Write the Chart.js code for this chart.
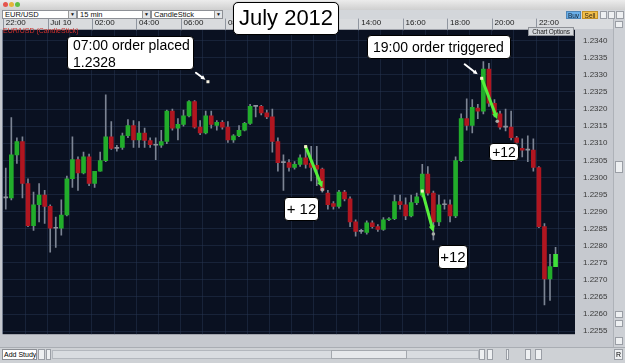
<!DOCTYPE html>
<html>
<head>
<meta charset="utf-8">
<script src="https://cdn.jsdelivr.net/npm/chart.js@4.4.1/dist/chart.umd.min.js"></script>
<style>
  body { margin: 0; width: 625px; height: 363px; overflow: hidden; position: relative;
         background: #c6c9cf; font-family: "Liberation Sans", Arial, sans-serif; }
  .abs { position: absolute; box-sizing: border-box; white-space: nowrap; overflow: hidden; }
  #titlebar { left: 0; top: 0; width: 625px; height: 10px; background: linear-gradient(#ececec, #cfcfcf); }
  .light { width: 5px; height: 5px; border-radius: 50%; top: 2px; }
  #toolbar { left: 0; top: 10px; width: 625px; height: 9px; background: #d3d6da; }
  #timerow { left: 0; top: 19px; width: 613px; height: 10px; background: #d9dbde; }
  .sel { top: 10px; height: 9px; background: #fff; border: 1px solid #8d9096; font-size: 7.5px;
         line-height: 8px; padding-left: 2px; color: #111; }
  .sel b { position: absolute; right: 0; top: 0; width: 7px; height: 7px; background: #e3e5e8;
           border-left: 1px solid #999; font-size: 5px; line-height: 7px; text-align: center; font-weight: normal; }
  #canvasWrap { left: 0; top: 17px; width: 613px; height: 330px; overflow: visible; }
  #vscroll { left: 613px; top: 19px; width: 12px; height: 328px; background: #cdd0d5; border-left: 1px solid #aeb2b8; }
  #bottom { left: 0; top: 347px; width: 625px; height: 16px; background: #ced1d5; border-top: 1px solid #a9adb3; }
  .btn { background: #eef0f2; border: 1px solid #9a9ea5; }
  .box { background: #fff; border: 1px solid #000; border-radius: 4px; color: #000; overflow: visible;
         box-shadow: 0 0 1px rgba(0,0,0,0.4); }
</style>
</head>
<body>
<div class="abs" id="titlebar"></div>
<div class="abs light" style="left:3px;background:#e5554d"></div>
<div class="abs light" style="left:9px;background:#e4b43a"></div>
<div class="abs light" style="left:15px;background:#5fbf45"></div>
<div class="abs" id="toolbar"></div>
<div class="abs" id="timerow"></div>
<div class="abs" id="canvasWrap"><canvas id="chart" width="613" height="330"></canvas></div>
<div class="abs sel" style="left:2px;width:75px">EUR/USD<b>▼</b></div>
<div class="abs sel" style="left:77px;width:74px">15 min<b>▼</b></div>
<div class="abs sel" style="left:151px;width:72px">CandleStick<b>▼</b></div>
<div class="abs" style="left:566px;top:11px;width:15px;height:8px;background:#69aee8;border:1px solid #4f86b8;font-size:6.5px;line-height:7px;text-align:center;color:#123;">Buy</div>
<div class="abs" style="left:582px;top:11px;width:16px;height:8px;background:#f2c04a;border:1px solid #c39127;font-size:6.5px;line-height:7px;text-align:center;color:#321;">Sell</div>
<div class="abs btn" style="left:600px;top:11px;width:7px;height:8px;"></div>
<div class="abs btn" style="left:608px;top:11px;width:7px;height:8px;"></div>
<div class="abs btn" style="left:616px;top:11px;width:8px;height:8px;"></div>
<div class="abs" id="vscroll"></div>
<div class="abs btn" style="left:615px;top:21px;width:8px;height:7px;"></div>
<div class="abs btn" style="left:615px;top:161px;width:8px;height:12px;"></div>
<div class="abs btn" style="left:615px;top:311px;width:8px;height:7px;"></div>
<div class="abs btn" style="left:615px;top:320px;width:8px;height:7px;"></div>
<div class="abs btn" style="left:615px;top:337px;width:8px;height:8px;"></div>
<div class="abs" id="bottom"></div>
<div class="abs" style="left:2px;top:349px;width:35px;height:11px;background:#fff;border:1px solid #8d9096;font-size:7px;line-height:10px;padding-left:1px;">Add Study</div>
<div class="abs btn" style="left:38px;top:349px;width:7px;height:11px;"></div>
<div class="abs btn" style="left:46px;top:349px;width:5px;height:11px;"></div>
<div class="abs" style="left:52px;top:350px;width:427px;height:9px;background:#d9dce0;border:1px solid #b3b7bd;"></div>
<div class="abs" style="left:331px;top:350px;width:76px;height:9px;background:#e6e8eb;border:1px solid #a4a8ae;"></div>
<div class="abs btn" style="left:479px;top:349px;width:6px;height:11px;"></div>
<div class="abs btn" style="left:487px;top:349px;width:6px;height:11px;"></div>
<div class="abs btn" style="left:506px;top:349px;width:3px;height:11px;"></div>
<div class="abs btn" style="left:525px;top:349px;width:6px;height:11px;"></div>
<div class="abs btn" style="left:535px;top:349px;width:7px;height:11px;"></div>
<div class="abs btn" style="left:614px;top:349px;width:9px;height:11px;font-size:7px;line-height:9px;text-align:center;">R</div>

<div class="abs" style="left:3px;top:27px;font-size:7px;line-height:8px;color:#d0302c;">EUR/USD (CandleStick)</div>
<div class="abs" style="left:528px;top:27px;width:46px;height:9px;background:#d4d7db;border:1px solid #8d9096;font-size:6.5px;line-height:7px;text-align:center;color:#222;letter-spacing:-0.2px;">Chart Options</div>

<div class="abs box" style="left:233px;top:2px;width:106px;height:33px;border-width:1.5px;border-radius:5px;font-size:22px;line-height:30px;text-align:center;">July 2012</div>
<div class="abs box" style="left:67px;top:36px;width:127px;height:34px;font-size:14px;line-height:17px;padding:0 0 0 5px;">07:00 order placed<br>1.2328</div>
<div class="abs box" style="left:367px;top:35px;width:144px;height:24px;font-size:14px;line-height:22px;padding-left:5px;">19:00 order triggered</div>
<div class="abs box" style="left:284px;top:197px;width:35px;height:24px;font-size:15px;line-height:22px;text-align:center;">+ 12</div>
<div class="abs box" style="left:438px;top:245px;width:30px;height:24px;font-size:15px;line-height:22px;text-align:center;">+12</div>
<div class="abs box" style="left:489px;top:143px;width:30px;height:18px;font-size:14px;line-height:16px;text-align:center;">+12</div>

<script>
// EUR/USD 15 min candles, 22:00 (Jul 9) onward
const opens = [1.2294,1.2294,1.23066,1.23105,1.22982,1.22859,1.2292,1.22948,1.22915,1.22851,
  1.22851,1.2289,1.22996,1.23052,1.23013,1.2306,1.22982,1.23018,1.23049,1.23119,
  1.23085,1.23088,1.23122,1.23152,1.2311,1.2313,1.23108,1.23094,1.23094,1.23105,
  1.23194,1.23144,1.23155,1.2318,1.23222,1.23147,1.2313,1.2318,1.23152,1.23161,
  1.23147,1.2311,1.23122,1.23138,1.23158,1.23208,1.23208,1.23189,1.23177,1.23105,
  1.23043,1.23043,1.23029,1.23038,1.23057,1.23041,1.23035,1.23024,1.22954,1.22923,
  1.22915,1.22957,1.22937,1.2287,1.22842,1.22839,1.22867,1.22856,1.22848,1.22876,
  1.22879,1.22929,1.2292,1.22887,1.22926,1.22948,1.2301,1.22954,1.2287,1.2292,
  1.2292,1.22887,1.23049,1.23172,1.23152,1.23203,1.23194,1.23317,1.23217,1.23186,
  1.23147,1.23147,1.23116,1.23085,1.2308,1.2308,1.23029,1.22856,1.22703,1.22739];
const highs = [1.23027,1.23175,1.23116,1.23119,1.22996,1.22957,1.22982,1.22962,1.2292,1.22884,
  1.22934,1.23004,1.23119,1.2306,1.23074,1.23068,1.23018,1.23074,1.23242,1.23163,
  1.23094,1.2313,1.23169,1.23166,1.23163,1.23144,1.23116,1.23116,1.23138,1.23197,
  1.232,1.23172,1.23197,1.23225,1.23225,1.23166,1.23194,1.23194,1.23166,1.23166,
  1.23163,1.23125,1.23152,1.23161,1.23214,1.23211,1.23211,1.23197,1.232,1.23116,
  1.23066,1.23052,1.23046,1.23066,1.23088,1.23091,1.23091,1.23027,1.22962,1.22929,
  1.22962,1.22962,1.22943,1.22876,1.22848,1.22873,1.22873,1.22862,1.22882,1.22882,
  1.22948,1.22948,1.2294,1.22948,1.22954,1.23038,1.23032,1.2296,1.22948,1.22934,
  1.22934,1.2306,1.23186,1.2323,1.23228,1.23214,1.23339,1.23334,1.23228,1.23194,
  1.232,1.23194,1.2312,1.23113,1.23122,1.23113,1.23032,1.22865,1.22775,1.22795];
const lows = [1.22907,1.22934,1.23041,1.2294,1.22856,1.22845,1.2287,1.22865,1.22781,1.22795,
  1.22831,1.22887,1.22971,1.22962,1.2301,1.22976,1.22971,1.23018,1.23046,1.23082,
  1.23077,1.23082,1.23116,1.23088,1.23088,1.23088,1.23088,1.23052,1.23088,1.23099,
  1.23138,1.2311,1.2315,1.23177,1.23144,1.23125,1.23127,1.23144,1.23138,1.23141,
  1.23102,1.23102,1.23119,1.23136,1.23155,1.23177,1.23183,1.23172,1.23074,1.23018,
  1.22962,1.23018,1.23024,1.23032,1.23027,1.2299,1.22976,1.22957,1.22907,1.22907,
  1.2291,1.22931,1.22856,1.22828,1.22836,1.22834,1.22851,1.22842,1.22845,1.22873,
  1.22876,1.22907,1.22876,1.22884,1.2292,1.22943,1.22948,1.22817,1.22859,1.22907,
  1.2287,1.22882,1.23046,1.23138,1.2313,1.23172,1.23186,1.23208,1.23177,1.23141,
  1.23136,1.2311,1.2309,1.2306,1.23046,1.23018,1.22853,1.22627,1.2264,1.22739];
const closes = [1.2294,1.23066,1.23105,1.22982,1.22859,1.2292,1.22948,1.22915,1.22851,1.22851,
  1.2289,1.22996,1.23052,1.23013,1.2306,1.22982,1.23018,1.23049,1.23119,1.23085,
  1.23085,1.23122,1.23152,1.2311,1.2313,1.23108,1.23096,1.23094,1.23105,1.23194,
  1.23144,1.23155,1.2318,1.23222,1.23147,1.2313,1.2318,1.23155,1.23161,1.23147,
  1.2311,1.23122,1.23138,1.23158,1.23208,1.23208,1.23189,1.23177,1.23105,1.23043,
  1.23043,1.23029,1.23038,1.23057,1.23038,1.23029,1.23024,1.22962,1.2292,1.22915,
  1.22957,1.22937,1.2287,1.22842,1.22842,1.22867,1.22856,1.22848,1.22876,1.22879,
  1.22929,1.2292,1.22887,1.22926,1.22943,1.2301,1.22954,1.2287,1.2292,1.2292,
  1.22887,1.23049,1.23172,1.23152,1.23205,1.23194,1.23317,1.23217,1.23186,1.23147,
  1.23147,1.23116,1.23102,1.2308,1.2308,1.23029,1.22856,1.22703,1.22739,1.22775];

// time axis labels, one every 8 candles (2 hours)
const timeTicks = ["22:00","Jul 10","02:00","04:00","06:00","08:00","10:00","12:00","14:00","16:00","18:00","20:00","22:00"];
const priceTicks = [1.2255,1.2260,1.2265,1.2270,1.2275,1.2280,1.2285,1.2290,1.2295,1.2300,
  1.2305,1.2310,1.2315,1.2320,1.2325,1.2330,1.2335,1.2340];

// trade annotations: [candle index, price]
const orderPlaced = [36.4, 1.2328];
const tradeMoves = [
  { from: [54, 1.2309], to: [57, 1.2297] },
  { from: [75, 1.2296], to: [77, 1.2284] },
  { from: [85.7, 1.2329], to: [88.5, 1.2317] }
];

const slots = opens.map((_, i) => String(i)).concat(["", " ", "  "]);
const bodies = opens.map((o, i) => [o, closes[i]]);
const wicks = lows.map((l, i) => [l, highs[i]]);
const bodyColors = opens.map((o, i) => {
  if (i === opens.length - 1) return "#3fe03a";
  if (closes[i] > o) return "#22ad2b";
  if (closes[i] < o) return "#b01620";
  return "#8e939c";
});

const FONT = "Liberation Sans";
const GRID = "rgba(38,54,82,0.5)";

function arrow(ctx, x1, y1, x2, y2, color, w, head) {
  const a = Math.atan2(y2 - y1, x2 - x1);
  ctx.strokeStyle = color;
  ctx.fillStyle = color;
  ctx.lineWidth = w;
  ctx.lineCap = "round";
  ctx.beginPath();
  ctx.moveTo(x1, y1);
  ctx.lineTo(x2 - Math.cos(a) * head * 0.6, y2 - Math.sin(a) * head * 0.6);
  ctx.stroke();
  ctx.beginPath();
  ctx.moveTo(x2, y2);
  ctx.lineTo(x2 - head * Math.cos(a - 0.45), y2 - head * Math.sin(a - 0.45));
  ctx.lineTo(x2 - head * Math.cos(a + 0.45), y2 - head * Math.sin(a + 0.45));
  ctx.closePath();
  ctx.fill();
}

const plotBg = {
  id: "plotBg",
  beforeDraw(chart) {
    const { ctx, chartArea: a } = chart;
    ctx.save();
    ctx.fillStyle = "#0a1121";
    ctx.fillRect(a.left, a.top, a.width, a.height);
    ctx.restore();
  }
};

const tradeMarks = {
  id: "tradeMarks",
  afterDatasetsDraw(chart) {
    const { ctx, scales: { x, y } } = chart;
    ctx.save();
    // order placed marker
    const ox = x.getPixelForValue(orderPlaced[0]);
    const oy = y.getPixelForValue(orderPlaced[1]);
    ctx.fillStyle = "#f4f0e0";
    ctx.fillRect(ox - 1.5, oy - 1.5, 3, 3);
    arrow(ctx, ox - 12, oy - 9, ox - 2.5, oy - 2, "#ffffff", 2, 5);

    tradeMoves.forEach((m, k) => {
      const x1 = x.getPixelForValue(m.from[0]), y1 = y.getPixelForValue(m.from[1]);
      const x2 = x.getPixelForValue(m.to[0]), y2 = y.getPixelForValue(m.to[1]);
      arrow(ctx, x1, y1, x2, y2, "#55ee3c", 3, 7);
      ctx.fillStyle = "#f6efc8";
      ctx.fillRect(x1 - 1.5, y1 - 1.5, 3, 3);
      ctx.fillStyle = "#a9aea8";
      ctx.beginPath();
      ctx.arc(x2, y2 + 2, 1.8, 0, Math.PI * 2);
      ctx.fill();
      if (k === 2) arrow(ctx, x1 - 17, y1 - 14, x1 - 4, y1 - 4, "#ffffff", 2, 5);
    });

    // separators in the time row
    ctx.strokeStyle = "#9096a0";
    ctx.lineWidth = 1;
    timeTicks.forEach((t, i) => {
      const px = Math.round(x.getPixelForValue(i * 8) - 2.7) + 0.5;
      ctx.beginPath();
      ctx.moveTo(px, 2);
      ctx.lineTo(px, chart.chartArea.top);
      ctx.stroke();
    });
    ctx.restore();
  }
};

new Chart(document.getElementById("chart"), {
  type: "bar",
  data: {
    labels: slots,
    datasets: [
      { label: "wick", data: wicks, backgroundColor: "#7c8493", barThickness: 1, grouped: false, order: 2 },
      { label: "body", data: bodies, backgroundColor: bodyColors, barThickness: 4, minBarLength: 1,
        grouped: false, order: 1, borderWidth: 0 }
    ]
  },
  options: {
    responsive: false,
    animation: false,
    layout: { padding: { left: 3, right: 0, top: 0, bottom: 1 } },
    plugins: { legend: { display: false }, tooltip: { enabled: false } },
    scales: {
      x: {
        type: "category",
        position: "top",
        offset: true,
        border: { display: false },
        grid: {
          offset: true,
          drawTicks: false,
          color: ctx => (ctx.index % 4 === 0 ? GRID : "rgba(0,0,0,0)")
        },
        ticks: {
          autoSkip: false, maxRotation: 0, minRotation: 0, align: "start", padding: 2,
          color: "#1b1b1b", font: { family: FONT, size: 8 },
          callback: (v, i) => (i % 8 === 0 && timeTicks[i / 8] !== undefined ? timeTicks[i / 8] : "")
        },
        afterFit(s) { s.height = 10; }
      },
      y: {
        position: "right",
        min: 1.22541,
        max: 1.23432,
        border: { display: false },
        afterBuildTicks(s) { s.ticks = priceTicks.map(v => ({ value: v })); },
        grid: { color: GRID, drawTicks: false },
        ticks: { color: "#3a3a3a", padding: 8, font: { family: FONT, size: 8 }, callback: v => v.toFixed(4) },
        afterFit(s) { s.width = 38; }
      }
    }
  },
  plugins: [plotBg, tradeMarks]
});
</script>
</body>
</html>
